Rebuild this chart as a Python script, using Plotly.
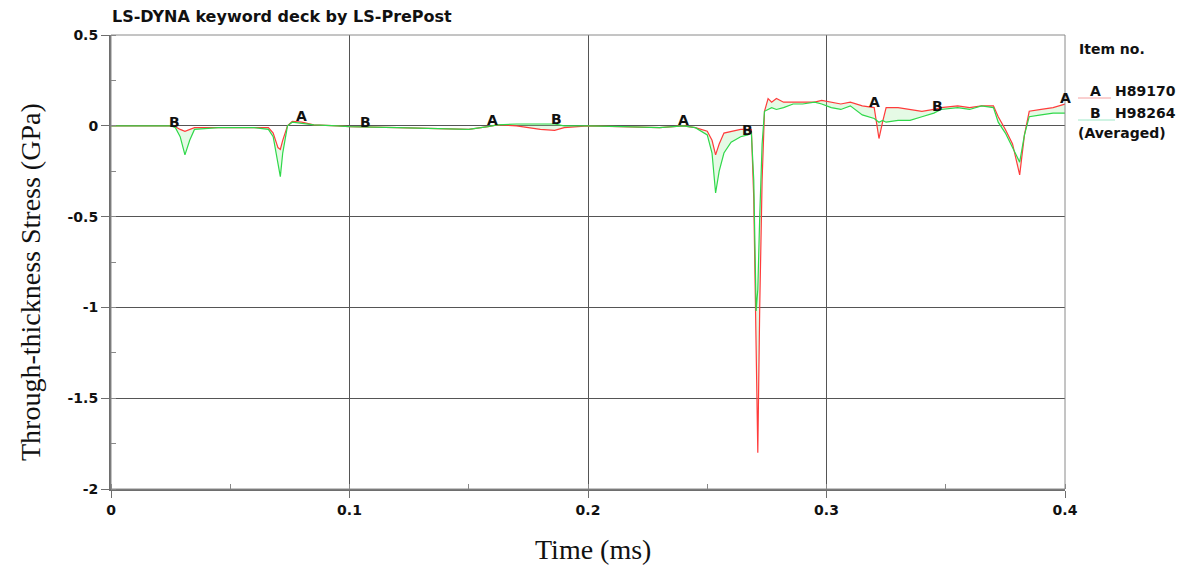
import numpy as np
import plotly.graph_objects as go

# ---- data ----
time_ms = [0.000, 0.025, 0.027, 0.029, 0.031, 0.033, 0.035, 0.045, 0.060, 0.066,
           0.068, 0.070, 0.071, 0.072, 0.074, 0.076, 0.080, 0.085, 0.095, 0.100,
           0.120, 0.140, 0.150, 0.158, 0.162, 0.170, 0.180, 0.186, 0.190, 0.200,
           0.215, 0.230, 0.240, 0.245, 0.250, 0.252, 0.2535, 0.255, 0.257, 0.260,
           0.264, 0.267, 0.2685, 0.2695, 0.2705, 0.2712, 0.272, 0.273, 0.274, 0.2755,
           0.277, 0.279, 0.282, 0.286, 0.290, 0.295, 0.298, 0.302, 0.306, 0.310,
           0.315, 0.320, 0.3213, 0.322, 0.3235, 0.325, 0.330, 0.335, 0.340, 0.345,
           0.348, 0.355, 0.360, 0.365, 0.370, 0.372, 0.375, 0.378, 0.381, 0.383,
           0.385, 0.390, 0.395, 0.400]

stress_A = [0.0, 0.0, -0.005, -0.02, -0.03, -0.02, -0.01, -0.01, -0.01, -0.01,
            -0.04, -0.12, -0.13, -0.08, 0.0, 0.025, 0.02, 0.005, 0.0, -0.005,
            -0.01, -0.015, -0.02, -0.005, 0.005, 0.0, -0.02, -0.025, -0.01, 0.0,
            -0.005, -0.01, 0.0, -0.01, -0.03, -0.08, -0.16, -0.10, -0.04, -0.03,
            -0.02, -0.02, -0.02, -0.40, -1.20, -1.80, -1.00, -0.30, 0.08, 0.15,
            0.13, 0.15, 0.13, 0.13, 0.13, 0.13, 0.14, 0.13, 0.12, 0.13,
            0.11, 0.10, 0.0, -0.07, 0.02, 0.10, 0.10, 0.09, 0.08, 0.09,
            0.10, 0.11, 0.10, 0.11, 0.11, 0.05, -0.02, -0.10, -0.27, -0.05,
            0.08, 0.09, 0.10, 0.12]

stress_B = [0.0, 0.0, -0.01, -0.06, -0.16, -0.08, -0.02, -0.01, -0.01, -0.02,
            -0.06, -0.20, -0.28, -0.15, 0.0, 0.02, 0.015, 0.005, 0.0, -0.005,
            -0.01, -0.015, -0.02, -0.005, 0.005, 0.01, 0.01, 0.01, 0.0, 0.0,
            -0.005, -0.01, 0.0, -0.01, -0.05, -0.15, -0.37, -0.25, -0.15, -0.09,
            -0.06, -0.05, -0.04, -0.30, -1.02, -0.90, -0.50, -0.10, 0.08, 0.09,
            0.10, 0.09, 0.10, 0.12, 0.12, 0.13, 0.12, 0.10, 0.09, 0.11,
            0.06, 0.04, 0.03, 0.02, 0.03, 0.02, 0.03, 0.03, 0.05, 0.07,
            0.09, 0.10, 0.09, 0.11, 0.10, 0.02, -0.04, -0.12, -0.20, -0.05,
            0.05, 0.06, 0.07, 0.07]

label_t_A = [0.08, 0.16, 0.24, 0.32, 0.40]
label_t_B = [0.0267, 0.1067, 0.1867, 0.2667, 0.3467]

x_ticks = [0, 0.1, 0.2, 0.3, 0.4]
x_tick_text = ["0", "0.1", "0.2", "0.3", "0.4"]
y_ticks = [0.5, 0, -0.5, -1, -1.5, -2]
y_tick_text = ["0.5", "0", "-0.5", "-1", "-1.5", "-2"]

item_names = ["H89170", "H98264"]
item_letters = ["A", "B"]

RED = "#ff3b3b"
GREEN = "#2fd84a"
FONT = "DejaVu Sans"
SERIF = "Liberation Serif"

fig = go.Figure()
fig.add_trace(go.Scatter(x=time_ms, y=stress_A, mode="lines",
                         line=dict(color=RED, width=1.2), showlegend=False))
fig.add_trace(go.Scatter(x=time_ms, y=stress_B, mode="lines",
                         line=dict(color=GREEN, width=1.2), showlegend=False,
                         fill="tonexty", fillcolor="rgba(150,235,150,0.25)"))

annotations = []
for t in label_t_A:
    annotations.append(dict(x=t, y=float(np.interp(t, time_ms, stress_A)), text="<b>A</b>",
                            showarrow=False, yshift=6,
                            font=dict(family=FONT, size=14, color="#111")))
for t in label_t_B:
    annotations.append(dict(x=t, y=float(np.interp(t, time_ms, stress_B)), text="<b>B</b>",
                            showarrow=False, yshift=5,
                            font=dict(family=FONT, size=14, color="#111")))


def px_x(p):
    return (p - 111) / 954


def px_y(p):
    return 1 - (p - 35) / 454


# title
annotations.append(dict(xref="paper", yref="paper", x=px_x(110), y=px_y(17),
                        xanchor="left", yanchor="middle", showarrow=False,
                        text="<b>LS-DYNA keyword deck by LS-PrePost</b>",
                        font=dict(family=FONT, size=16, color="#111")))
# legend texts
annotations.append(dict(xref="paper", yref="paper", x=px_x(1077), y=px_y(49),
                        xanchor="left", yanchor="middle", showarrow=False,
                        text="<b>Item no.</b>", font=dict(family=FONT, size=14, color="#111")))
for i, (let, name) in enumerate(zip(item_letters, item_names)):
    annotations.append(dict(xref="paper", yref="paper", x=px_x(1088), y=px_y(91 + 21.5 * i),
                            xanchor="left", yanchor="middle", showarrow=False,
                            text="<b>%s</b>" % let, font=dict(family=FONT, size=14, color="#111")))
    annotations.append(dict(xref="paper", yref="paper", x=px_x(1113), y=px_y(91 + 21.5 * i),
                            xanchor="left", yanchor="middle", showarrow=False,
                            text="<b>%s</b>" % name, font=dict(family=FONT, size=14, color="#111")))
annotations.append(dict(xref="paper", yref="paper", x=px_x(1076), y=px_y(133),
                        xanchor="left", yanchor="middle", showarrow=False,
                        text="<b>(Averaged)</b>", font=dict(family=FONT, size=14, color="#111")))

# axis titles
annotations.append(dict(xref="paper", yref="paper", x=px_x(30), y=px_y(282),
                        xanchor="center", yanchor="middle", showarrow=False, textangle=-90,
                        text="Through-thickness Stress (GPa)",
                        font=dict(family=SERIF, size=28, color="#111")))
annotations.append(dict(xref="paper", yref="paper", x=px_x(593), y=px_y(549),
                        xanchor="center", yanchor="middle", showarrow=False,
                        text="Time (ms)", font=dict(family=SERIF, size=28, color="#111")))

shapes = [
    dict(type="rect", xref="paper", yref="paper", x0=0, x1=1, y0=0, y1=1,
         line=dict(color="#8a8a8a", width=1), layer="above"),
    dict(type="line", xref="paper", yref="paper", x0=px_x(1078), x1=px_x(1111),
         y0=px_y(98), y1=px_y(98), line=dict(color="#f4a0a0", width=1)),
    dict(type="line", xref="paper", yref="paper", x0=px_x(1078), x1=px_x(1115),
         y0=px_y(120), y1=px_y(120), line=dict(color="#9fe8c8", width=1)),
]

fig.update_layout(
    width=1192, height=568,
    margin=dict(l=111, r=127, t=35, b=79),
    paper_bgcolor="white", plot_bgcolor="white",
    annotations=annotations, shapes=shapes,
    font=dict(family=FONT, color="#111"),
)
fig.update_xaxes(range=[0, 0.4], tickvals=x_ticks, ticktext=["<b>%s</b>" % s for s in x_tick_text],
                 showgrid=True, gridcolor="#555", gridwidth=1, zeroline=False,
                 showline=True, linecolor="#6e6e6e", linewidth=2,
                 ticks="outside", ticklen=7, tickcolor="#6e6e6e", tickwidth=1,
                 tickfont=dict(family=FONT, size=14, color="#111"),
                 minor=dict(dtick=0.05, tick0=0, ticks="inside", ticklen=5,
                            tickcolor="#888", showgrid=False))
fig.update_yaxes(range=[-2, 0.5], tickvals=y_ticks, ticktext=["<b>%s</b>" % s for s in y_tick_text],
                 showgrid=True, gridcolor="#555", gridwidth=1, zeroline=False,
                 showline=True, linecolor="#6e6e6e", linewidth=2,
                 ticks="outside", ticklen=8, tickcolor="#6e6e6e", tickwidth=1,
                 tickfont=dict(family=FONT, size=14, color="#111"),
                 minor=dict(dtick=0.25, tick0=0, ticks="inside", ticklen=5,
                            tickcolor="#888", showgrid=False))

fig.write_html("out.html")
